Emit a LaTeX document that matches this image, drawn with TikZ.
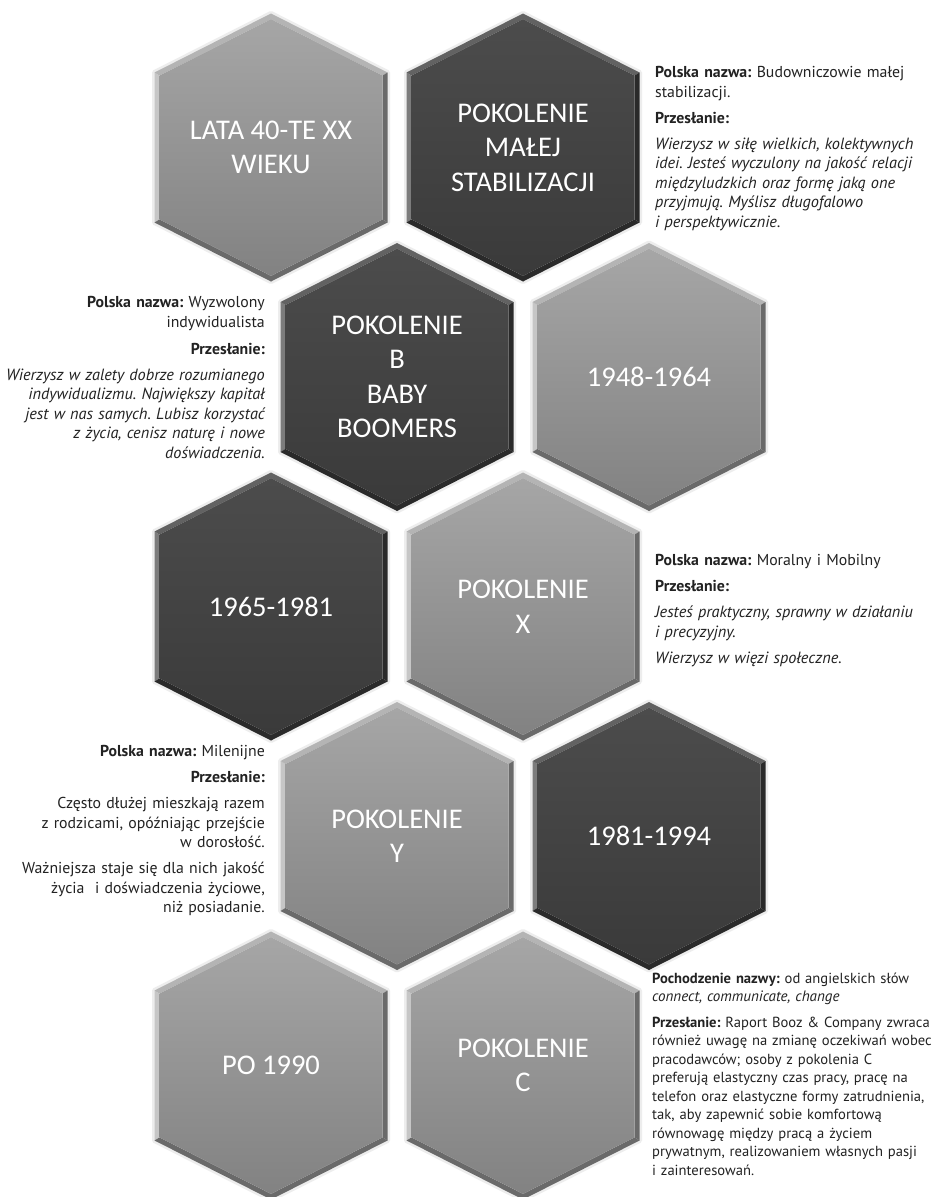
\documentclass[tikz,border=0pt]{standalone}
\usepackage{fontspec}
\setmainfont{PT Sans}[ItalicFeatures={Scale=1.03}]
\newfontfamily\hexfont{Carlito}
\frenchspacing

\definecolor{lightTop}{HTML}{A6A6A6}
\definecolor{lightBot}{HTML}{828282}
\definecolor{lightHi}{HTML}{C6C6C6}
\definecolor{lightHiB}{HTML}{B4B4B4}
\definecolor{lightSh}{HTML}{6A6A6A}
\definecolor{darkTop}{HTML}{4C4C4C}
\definecolor{darkBot}{HTML}{3A3A3A}
\definecolor{darkHi}{HTML}{7C7C7C}
\definecolor{darkHiB}{HTML}{626262}
\definecolor{darkSh}{HTML}{2A2A2A}
\definecolor{desctext}{HTML}{222222}

\tikzset{
  hexlabel/.style={font=\hexfont\fontsize{28.5}{34.5}\selectfont, text=white, align=center, inner sep=0pt},
  desc/.style={font=\frenchspacing\fontsize{15.8}{19.5}\selectfont, text=desctext, inner sep=0pt},
  descsmall/.style={font=\frenchspacing\fontsize{14.6}{18.5}\selectfont},
  descL/.style={desc, anchor=north west, text width=300pt, align=left},
  descR/.style={desc, anchor=north east, text width=300pt, align=right},
  hexshadow/.style={line width=5pt, black!7, line join=round},
}

\newcommand{\hexcell}[5]{%
  \begin{scope}[shift={(#2,#3)}]
    \draw[hexshadow] (0,-134)--(116.5,-75)--(116.5,75)--(0,134)--(-116.5,75)--(-116.5,-75)--cycle;
    \fill[#4Hi] (-116.5,-75)--(-116.5,75)--(-111.5,71.9)--(-111.5,-71.9)--cycle;
    \fill[#4HiB] (-116.5,-75)--(0,-134)--(0,-128.4)--(-111.5,-71.9)--cycle;
    \fill[#4HiB] (0,-134)--(116.5,-75)--(111.5,-71.9)--(0,-128.4)--cycle;
    \fill[#4Sh] (116.5,-75)--(116.5,75)--(111.5,71.9)--(111.5,-71.9)--cycle;
    \fill[#4Sh] (116.5,75)--(0,134)--(0,128.4)--(111.5,71.9)--cycle;
    \fill[#4Sh] (-116.5,75)--(0,134)--(0,128.4)--(-111.5,71.9)--cycle;
    \shade[top color=#4Top, bottom color=#4Bot] (0,-128.4)--(111.5,-71.9)--(111.5,71.9)--(0,128.4)--(-111.5,71.9)--(-111.5,-71.9)--cycle;
  \end{scope}
  \node[hexlabel] (#1) at (#2,#3) {#5};
}

\begin{document}
\begin{tikzpicture}[x=1pt,y=-1pt]
\useasboundingbox (0,0) rectangle (937,1197);
\fill[white] (0,0) rectangle (937,1197);

\hexcell{hexA}{271}{147.5}{light}{LATA 40-TE XX\\WIEKU}
\hexcell{hexB}{523}{147.5}{dark}{POKOLENIE\\MAŁEJ\\STABILIZACJI}
\hexcell{hexC}{397}{377}{dark}{POKOLENIE\\B\\BABY\\BOOMERS}
\hexcell{hexD}{649}{377}{light}{1948-1964}
\hexcell{hexE}{271}{606.5}{dark}{1965-1981}
\hexcell{hexF}{523}{606.5}{light}{POKOLENIE\\X}
\hexcell{hexG}{397}{836}{light}{POKOLENIE\\Y}
\hexcell{hexH}{649}{836}{dark}{1981-1994}
\hexcell{hexI}{271}{1065.5}{light}{PO 1990}
\hexcell{hexJ}{523}{1065.5}{light}{POKOLENIE\\C}

\node[descL] (descA) at (655,66.5) {\textbf{Polska nazwa:} Budowniczowie małej\\stabilizacji.\\[6.5pt]\textbf{Przesłanie:}\\[6.5pt]\itshape Wierzysz w siłę wielkich, kolektywnych\\idei. Jesteś wyczulony na jakość relacji\\międzyludzkich oraz formę jaką one\\przyjmują. Myślisz długofalowo\\i perspektywicznie.};

\node[descR] (descB) at (265,296.5) {\textbf{Polska nazwa:} Wyzwolony\\indywidualista\\[8pt]\textbf{Przesłanie:}\\[6pt]\itshape Wierzysz w zalety dobrze rozumianego\\indywidualizmu. Największy kapitał\\jest w nas samych. Lubisz korzystać\\z życia, cenisz naturę i nowe\\doświadczenia.};

\node[descL] (descC) at (655,554.5) {\textbf{Polska nazwa:} Moralny i Mobilny\\[6.5pt]\textbf{Przesłanie:}\\[6.5pt]\itshape Jesteś praktyczny, sprawny w działaniu\\i precyzyjny.\\[6.5pt]Wierzysz w więzi społeczne.};

\node[descR] (descD) at (265,745.5) {\textbf{Polska nazwa:} Milenijne\\[6.5pt]\textbf{Przesłanie:}\\[6.5pt]Często dłużej mieszkają razem\\z rodzicami, opóźniając przejście\\w dorosłość.\\[6.5pt]Ważniejsza staje się dla nich jakość\\życia\ \ i doświadczenia życiowe,\\niż posiadanie.};

\node[descL, descsmall] (descE) at (652,972.5) {\textbf{Pochodzenie nazwy:} od angielskich słów\\\textit{connect, communicate, change}\\[7pt]\textbf{Przesłanie:} Raport Booz \& Company zwraca\\również uwagę na zmianę oczekiwań wobec\\pracodawców; osoby z pokolenia C\\preferują elastyczny czas pracy, pracę na\\telefon oraz elastyczne formy zatrudnienia,\\tak, aby zapewnić sobie komfortową\\równowagę między pracą a życiem\\prywatnym, realizowaniem własnych pasji\\i zainteresowań.};
\end{tikzpicture}
\end{document}
